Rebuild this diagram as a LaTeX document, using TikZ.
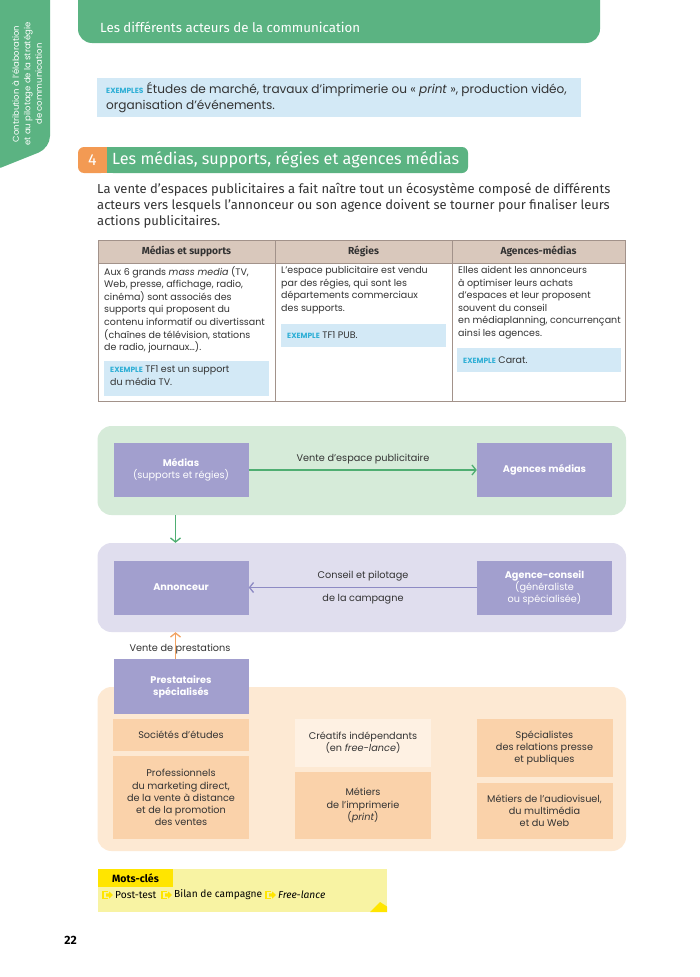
\documentclass[tikz,border=0pt]{standalone}
\usepackage{fontspec}
\setmainfont{Fira Sans}
\newfontfamily\geo{Poppins}
\usetikzlibrary{arrows.meta}
\definecolor{hgreen}{HTML}{5BB382}
\definecolor{horange}{HTML}{F39A53}
\definecolor{lav}{HTML}{A29FCE}
\definecolor{lavpanel}{HTML}{E0DEEE}
\definecolor{greenpanel}{HTML}{D6EBD9}
\definecolor{peachpanel}{HTML}{FDE9D3}
\definecolor{peach}{HTML}{FAD2AA}
\definecolor{peachlight}{HTML}{FEF1E3}
\definecolor{exblue}{HTML}{D3E9F6}
\definecolor{excyan}{HTML}{2FAFD6}
\definecolor{thead}{HTML}{D9C8BC}
\definecolor{tline}{HTML}{A2928A}
\definecolor{tx}{HTML}{333333}
\definecolor{ybox}{HTML}{F8F3A3}
\definecolor{ytab}{HTML}{FFE500}
\definecolor{lavarrow}{HTML}{8E8BC4}
\definecolor{garrow}{HTML}{4FAE72}
\definecolor{oarrow}{HTML}{F2A262}
\tikzset{
  dfont/.style={font=\geo\fontsize{9.7}{12.1}\selectfont},
  lavbox/.style={fill=lav, text=white, minimum width=135pt, inner sep=0pt, align=center, dfont},
  peachbox/.style={fill=peach, text=tx, minimum width=136pt, inner sep=0pt, align=center, dfont},
  panel/.style={rounded corners=14pt, inner sep=0pt, minimum width=528.5pt},
  lbl/.style={text=tx, inner sep=0pt, dfont},
  celltext/.style={anchor=north west, align=left, inner sep=0pt, text=tx, font=\geo\fontsize{9.5}{12.6}\selectfont},
  exbox/.style={fill=exblue, inner sep=0pt},
  exlbl/.style={anchor=west, inner sep=0pt, text=tx, font=\geo\fontsize{9.5}{12.6}\selectfont},
  conn/.style={line width=1.3pt, -{Straight Barb[length=4pt,width=10pt]}},
  thh/.style={text=tx, inner sep=0pt, font=\bfseries\fontsize{10.2}{12}\selectfont},
  kw/.style={anchor=west, inner sep=0pt, text=black, font=\fontsize{10.2}{12}\selectfont},
}
\newcommand{\exw}[1]{{\color{excyan}\bfseries\fontsize{7.5}{8}\selectfont #1}}
\newcommand{\kwicon}[1]{%
  \draw[ytab, line width=1.4pt] (#1+5,891.5) -- (#1,891.5) -- (#1,898.5) -- (#1+5,898.5);
  \fill[ytab] (#1+3,893.3) -- (#1+6,893.3) -- (#1+6,891.3) -- (#1+10,895) -- (#1+6,898.7) -- (#1+6,896.7) -- (#1+3,896.7) -- cycle;}
\begin{document}
\begin{tikzpicture}[x=1pt,y=-1pt]
\useasboundingbox[fill=white] (0,0) rectangle (700,977);

% left tab
\fill[hgreen, rounded corners=12pt] (-10,-20) -- (50,-20) -- (50,148) -- (-10,172) -- cycle;
\node[rotate=90, text=white, align=center, inner sep=0pt, font=\geo\fontsize{8.5}{11.5}\selectfont] (tabtext) at (27,84) {Contribution à l’élaboration\\et au pilotage de la stratégie\\de communication};

% header bar
\fill[hgreen, rounded corners=14pt] (78,-20) rectangle (600,43);
\node[anchor=west, text=white, inner sep=0pt, font=\fontsize{13.3}{15}\selectfont] (htitle) at (100,27) {Les différents acteurs de la communication};

% exemples box
\fill[exblue] (97,78) rectangle (581,117);
\node[anchor=north west, align=left, inner sep=0pt, text=tx, font=\geo\fontsize{12.1}{15.5}\selectfont] (ex0) at (106,82.5) {\exw{EXEMPLES} Études de marché, travaux d’imprimerie ou « \emph{print} », production vidéo,\\organisation d’événements.};

% section heading
\fill[horange, rounded corners=6pt] (78,147) rectangle (107,173);
\fill[horange] (100,147) rectangle (107,173);
\fill[hgreen, rounded corners=6pt] (107,147) rectangle (468,173);
\fill[hgreen] (107,147) rectangle (114,173);
\node[text=white, inner sep=0pt, font=\fontsize{16}{18}\selectfont] (secnum) at (92.5,160) {4};
\node[anchor=west, text=white, inner sep=0pt, font=\fontsize{16.2}{18}\selectfont] (sectitle) at (112,160) {Les médias, supports, régies et agences médias};

% paragraph
\node[anchor=north west, align=left, inner sep=0pt, text=tx, font=\fontsize{13}{15.8}\selectfont] (para) at (97,183) {La vente d’espaces publicitaires a fait naître tout un écosystème composé de différents\\acteurs vers lesquels l’annonceur ou son agence doivent se tourner pour finaliser leurs\\actions publicitaires.};

% table
\fill[thead] (98,240) rectangle (625,263);
\draw[tline, line width=1pt] (98,240) rectangle (625,401);
\draw[tline, line width=0.8pt] (98,263) -- (625,263);
\draw[tline, line width=0.8pt] (275,240) -- (275,401);
\draw[tline, line width=0.8pt] (452,240) -- (452,401);
\node[thh] (th1) at (186.5,251.5) {Médias et supports};
\node[thh] (th2) at (363.5,251.5) {Régies};
\node[thh] (th3) at (538.5,251.5) {Agences-médias};

\node[celltext] (c1) at (104,266) {Aux 6 grands \emph{mass media} (TV,\\Web, presse, affichage, radio,\\cinéma) sont associés des\\supports qui proposent du\\contenu informatif ou divertissant\\(chaînes de télévision, stations\\de radio, journaux…).};
\fill[exbox] (104,361) rectangle (269,395.5);
\node[celltext] (e1) at (110,365.5) {\exw{EXEMPLE} TF1 est un support\\du média TV.};

\node[celltext] (c2) at (281,266) {L’espace publicitaire est vendu\\par des régies, qui sont les\\départements commerciaux\\des supports.};
\fill[exbox] (281,324) rectangle (446,347);
\node[exlbl] (e2) at (287,335.5) {\exw{EXEMPLE} TF1 PUB.};

\node[celltext] (c3) at (458,266) {Elles aident les annonceurs\\à optimiser leurs achats\\d’espaces et leur proposent\\souvent du conseil\\en médiaplanning, concurrençant\\ainsi les agences.};
\fill[exbox] (457,348) rectangle (621,371.5);
\node[exlbl] (e3) at (463,359.7) {\exw{EXEMPLE} Carat.};

% diagram panels
\node[panel, fill=greenpanel, minimum height=89pt] (gp) at (361.75,470.5) {};
\node[panel, fill=lavpanel, minimum height=89pt] (lp) at (361.75,587.5) {};
\node[panel, fill=peachpanel, minimum height=164pt] (op) at (361.75,769) {};

% boxes
\node[lavbox, minimum height=54pt] (medias) at (181,470) {{\bfseries Médias}\\(supports et régies)};
\node[lavbox, minimum height=54pt] (agmedias) at (544.5,470) {\bfseries Agences médias};
\node[lavbox, minimum height=54pt] (annonceur) at (181,587.5) {\bfseries Annonceur};
\node[lavbox, minimum height=54pt] (agconseil) at (544.5,587.5) {{\bfseries Agence-conseil}\\(généraliste\\ou spécialisée)};
\node[lavbox, minimum height=55pt] (presta) at (181,686.5) {\bfseries Prestataires\\\bfseries spécialisés};

\node[peachbox, minimum height=32pt] (soc) at (181,735) {Sociétés d’études};
\node[peachbox, minimum height=83pt] (pro) at (181,797.5) {Professionnels\\du marketing direct,\\de la vente à distance\\et de la promotion\\des ventes};
\node[peachbox, fill=peachlight, minimum height=47.5pt] (crea) at (363,742.75) {Créatifs indépendants\\(en \emph{free-lance})};
\node[peachbox, minimum height=67pt] (imp) at (363,805.5) {Métiers\\de l’imprimerie\\(\emph{print})};
\node[peachbox, minimum height=58pt] (spec) at (544.5,748) {Spécialistes\\des relations presse\\et publiques};
\node[peachbox, minimum height=56.5pt] (av) at (544.5,810.75) {Métiers de l’audiovisuel,\\du multimédia\\et du Web};

% connectors
\draw[conn, garrow] (medias.east) -- (agmedias.west);
\node[lbl] (l1) at (363,459) {Vente d’espace publicitaire};
\draw[conn, lavarrow] (agconseil.west) -- (annonceur.east);
\node[lbl] (l2) at (363,576) {Conseil et pilotage};
\node[lbl] (l3) at (363,599) {de la campagne};
\coordinate (gdown) at (175.5,515);
\draw[conn, garrow] (gdown) -- (gdown |- lp.north);
\node[lbl] (l4) at (180,649.5) {Vente de prestations};
\draw[conn, oarrow] (presta.north -| gdown) -- (lp.south -| gdown);

% mots-cles
\fill[ybox] (98,869) rectangle (387,912);
\fill[ytab] (98,869) rectangle (173,887);
\fill[ytab] (370,912) -- (380,902) -- (387,906.5) -- (387,912) -- cycle;
\node[text=black, inner sep=0pt, font=\bfseries\fontsize{10.5}{12}\selectfont] (mc) at (135.5,878) {Mots-clés};
\kwicon{103}
\node[kw] (k1) at (115,895) {Post-test};
\kwicon{162}
\node[kw] (k2) at (174,895) {Bilan de campagne};
\kwicon{266}
\node[kw] (k3) at (278,895) {\itshape Free-lance};

% page number
\node[text=black, inner sep=0pt, font=\bfseries\fontsize{12}{14}\selectfont] (pnum) at (70.5,940) {22};
\end{tikzpicture}
\end{document}
